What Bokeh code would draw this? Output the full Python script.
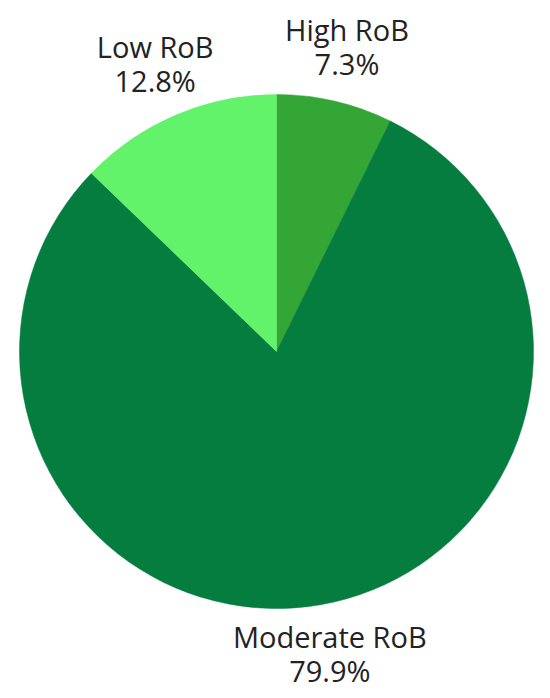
import math
from bokeh.plotting import figure
from bokeh.models import Range1d, ColumnDataSource
from bokeh.core.properties import value
from bokeh.embed import file_html
from bokeh.resources import INLINE

categories = ["High RoB", "Moderate RoB", "Low RoB"]
percents = [7.3, 79.9, 12.8]
colors = ["#33a636", "#057d3e", "#62f36b"]

W, H = 550, 698
p = figure(width=W, height=H, output_backend="svg", toolbar_location=None,
           x_range=Range1d(0, W), y_range=Range1d(0, H),
           min_border=0)
p.axis.visible = False
p.grid.visible = False
p.outline_line_color = None
p.background_fill_color = "white"
p.border_fill_color = "white"

cx, cy, r = 276, H - 351, 257
label_r = 310

total = sum(percents)
starts, ends, lx, ly, names, pcts = [], [], [], [], [], []
a = math.pi / 2
for cat, v in zip(categories, percents):
    sweep = v / total * 2 * math.pi
    end = a - sweep
    starts.append(end)
    ends.append(a)
    mid = a - sweep / 2
    lx.append(cx + label_r * math.cos(mid))
    ly.append(cy + label_r * math.sin(mid))
    names.append(cat)
    pcts.append(f"{v:.1f}%")
    a = end

src = ColumnDataSource(dict(start=starts, end=ends, color=colors, x=[cx] * 3, y=[cy] * 3,
                            lx=lx, ly1=[y + 20 for y in ly], ly2=[y - 14 for y in ly],
                            name=names, pct=pcts))
p.wedge(x="x", y="y", radius=r, start_angle="start", end_angle="end",
        fill_color="color", line_color="color", line_width=0.5, source=src)

for col, ycol in (("name", "ly1"), ("pct", "ly2")):
    p.text(x="lx", y=ycol, text=col, source=src,
           text_align="center", text_baseline="alphabetic",
           text_font=value("Open Sans"), text_font_size="29px", text_color="#222222")

open("out.html", "w").write(file_html(p, INLINE))
